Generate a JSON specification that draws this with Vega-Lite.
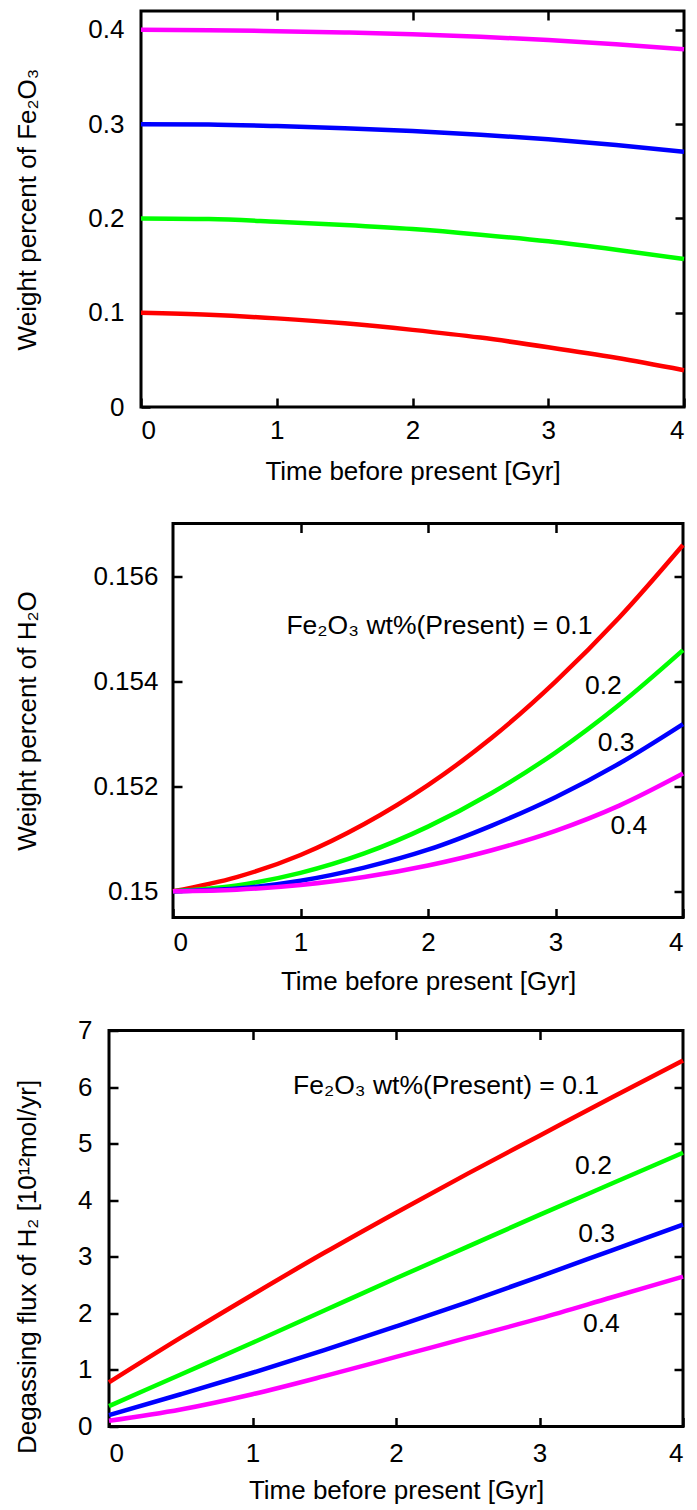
{
  "$schema": "https://vega.github.io/schema/vega-lite/v6.json",
  "background": "white",
  "padding": {"left": 5, "top": 8, "right": 5, "bottom": 5},
  "config": {
    "font": "Liberation Sans",
    "view": {"stroke": "black", "strokeWidth": 3},
    "axis": {"grid": false, "domain": false, "ticks": true, "tickSize": -9, "tickWidth": 2.5, "tickColor": "black",
      "labelFont": "Liberation Sans", "labelFontSize": 26, "labelColor": "black",
      "titleFont": "Liberation Sans", "titleFontSize": 26, "titleFontWeight": "normal", "titleColor": "black"},
    "line": {"strokeWidth": 4.5, "interpolate": "monotone"},
    "text": {"font": "Liberation Sans", "fontSize": 26.5, "color": "black"}
  },
  "datasets": {
    "fe": [
      {"t": 0, "v": 0.1, "s": "0.1"}, {"t": 0.5, "v": 0.0978, "s": "0.1"}, {"t": 1, "v": 0.094, "s": "0.1"}, {"t": 1.5, "v": 0.0888, "s": "0.1"}, {"t": 2, "v": 0.0818, "s": "0.1"}, {"t": 2.5, "v": 0.0736, "s": "0.1"}, {"t": 3, "v": 0.0634, "s": "0.1"}, {"t": 3.5, "v": 0.0522, "s": "0.1"}, {"t": 4, "v": 0.039, "s": "0.1"},
      {"t": 0, "v": 0.2, "s": "0.2"}, {"t": 0.5, "v": 0.1993, "s": "0.2"}, {"t": 1, "v": 0.1965, "s": "0.2"}, {"t": 1.5, "v": 0.1931, "s": "0.2"}, {"t": 2, "v": 0.1888, "s": "0.2"}, {"t": 2.5, "v": 0.1828, "s": "0.2"}, {"t": 3, "v": 0.1757, "s": "0.2"}, {"t": 3.5, "v": 0.1668, "s": "0.2"}, {"t": 4, "v": 0.1569, "s": "0.2"},
      {"t": 0, "v": 0.3, "s": "0.3"}, {"t": 0.5, "v": 0.2996, "s": "0.3"}, {"t": 1, "v": 0.2979, "s": "0.3"}, {"t": 1.5, "v": 0.2957, "s": "0.3"}, {"t": 2, "v": 0.2928, "s": "0.3"}, {"t": 2.5, "v": 0.2888, "s": "0.3"}, {"t": 3, "v": 0.2839, "s": "0.3"}, {"t": 3.5, "v": 0.2778, "s": "0.3"}, {"t": 4, "v": 0.2708, "s": "0.3"},
      {"t": 0, "v": 0.4, "s": "0.4"}, {"t": 0.5, "v": 0.3997, "s": "0.4"}, {"t": 1, "v": 0.3986, "s": "0.4"}, {"t": 1.5, "v": 0.3972, "s": "0.4"}, {"t": 2, "v": 0.3954, "s": "0.4"}, {"t": 2.5, "v": 0.3927, "s": "0.4"}, {"t": 3, "v": 0.3893, "s": "0.4"}, {"t": 3.5, "v": 0.3848, "s": "0.4"}, {"t": 4, "v": 0.3794, "s": "0.4"}
    ],
    "h2o": [
      {"t": 0, "v": 0.15, "s": "0.1"}, {"t": 0.5, "v": 0.15027, "s": "0.1"}, {"t": 1, "v": 0.15069, "s": "0.1"}, {"t": 1.5, "v": 0.15128, "s": "0.1"}, {"t": 2, "v": 0.15202, "s": "0.1"}, {"t": 2.5, "v": 0.15292, "s": "0.1"}, {"t": 3, "v": 0.15399, "s": "0.1"}, {"t": 3.5, "v": 0.15521, "s": "0.1"}, {"t": 4, "v": 0.15659, "s": "0.1"},
      {"t": 0, "v": 0.15, "s": "0.2"}, {"t": 0.5, "v": 0.15011, "s": "0.2"}, {"t": 1, "v": 0.15035, "s": "0.2"}, {"t": 1.5, "v": 0.15072, "s": "0.2"}, {"t": 2, "v": 0.15123, "s": "0.2"}, {"t": 2.5, "v": 0.15187, "s": "0.2"}, {"t": 3, "v": 0.15264, "s": "0.2"}, {"t": 3.5, "v": 0.15355, "s": "0.2"}, {"t": 4, "v": 0.15459, "s": "0.2"},
      {"t": 0, "v": 0.15, "s": "0.3"}, {"t": 0.5, "v": 0.15005, "s": "0.3"}, {"t": 1, "v": 0.1502, "s": "0.3"}, {"t": 1.5, "v": 0.15045, "s": "0.3"}, {"t": 2, "v": 0.15079, "s": "0.3"}, {"t": 2.5, "v": 0.15125, "s": "0.3"}, {"t": 3, "v": 0.15179, "s": "0.3"}, {"t": 3.5, "v": 0.15243, "s": "0.3"}, {"t": 4, "v": 0.15318, "s": "0.3"},
      {"t": 0, "v": 0.15, "s": "0.4"}, {"t": 0.5, "v": 0.15003, "s": "0.4"}, {"t": 1, "v": 0.15012, "s": "0.4"}, {"t": 1.5, "v": 0.15027, "s": "0.4"}, {"t": 2, "v": 0.15049, "s": "0.4"}, {"t": 2.5, "v": 0.15078, "s": "0.4"}, {"t": 3, "v": 0.15115, "s": "0.4"}, {"t": 3.5, "v": 0.15163, "s": "0.4"}, {"t": 4, "v": 0.15224, "s": "0.4"}
    ],
    "h2": [
      {"t": 0, "v": 0.78, "s": "0.1"}, {"t": 0.5, "v": 1.57, "s": "0.1"}, {"t": 1, "v": 2.33, "s": "0.1"}, {"t": 1.5, "v": 3.07, "s": "0.1"}, {"t": 2, "v": 3.78, "s": "0.1"}, {"t": 2.5, "v": 4.47, "s": "0.1"}, {"t": 3, "v": 5.14, "s": "0.1"}, {"t": 3.5, "v": 5.81, "s": "0.1"}, {"t": 4, "v": 6.47, "s": "0.1"},
      {"t": 0, "v": 0.36, "s": "0.2"}, {"t": 0.5, "v": 0.92, "s": "0.2"}, {"t": 1, "v": 1.48, "s": "0.2"}, {"t": 1.5, "v": 2.05, "s": "0.2"}, {"t": 2, "v": 2.62, "s": "0.2"}, {"t": 2.5, "v": 3.18, "s": "0.2"}, {"t": 3, "v": 3.74, "s": "0.2"}, {"t": 3.5, "v": 4.29, "s": "0.2"}, {"t": 4, "v": 4.84, "s": "0.2"},
      {"t": 0, "v": 0.2, "s": "0.3"}, {"t": 0.5, "v": 0.57, "s": "0.3"}, {"t": 1, "v": 0.95, "s": "0.3"}, {"t": 1.5, "v": 1.35, "s": "0.3"}, {"t": 2, "v": 1.77, "s": "0.3"}, {"t": 2.5, "v": 2.2, "s": "0.3"}, {"t": 3, "v": 2.65, "s": "0.3"}, {"t": 3.5, "v": 3.11, "s": "0.3"}, {"t": 4, "v": 3.57, "s": "0.3"},
      {"t": 0, "v": 0.1, "s": "0.4"}, {"t": 0.5, "v": 0.3, "s": "0.4"}, {"t": 1, "v": 0.57, "s": "0.4"}, {"t": 1.5, "v": 0.89, "s": "0.4"}, {"t": 2, "v": 1.23, "s": "0.4"}, {"t": 2.5, "v": 1.57, "s": "0.4"}, {"t": 3, "v": 1.91, "s": "0.4"}, {"t": 3.5, "v": 2.28, "s": "0.4"}, {"t": 4, "v": 2.65, "s": "0.4"}
    ],
    "lab2": [
      {"t": 3.29, "v": 0.15504, "label": "Fe₂O₃ wt%(Present) = 0.1"},
      {"t": 3.52, "v": 0.15391, "label": "0.2"},
      {"t": 3.62, "v": 0.15282, "label": "0.3"},
      {"t": 3.72, "v": 0.15125, "label": "0.4"}
    ],
    "lab3": [
      {"t": 3.415, "v": 6.02, "label": "Fe₂O₃ wt%(Present) = 0.1"},
      {"t": 3.505, "v": 4.6, "label": "0.2"},
      {"t": 3.526, "v": 3.4, "label": "0.3"},
      {"t": 3.56, "v": 1.805, "label": "0.4"}
    ],
    "blank": [{}]
  },
  "concat": [
    {
      "hconcat": [
        {"width": 1, "height": 1, "data": {"name": "blank"}, "mark": {"type": "point", "opacity": 0}, "view": {"stroke": null}},
        {
          "width": 543, "height": 396,
          "data": {"name": "fe"},
          "layer": [
            {"mark": {"type": "line"},
              "encoding": {
                "x": {"field": "t", "type": "quantitative", "scale": {"domain": [0, 4], "nice": false},
                  "axis": {"orient": "bottom", "values": [0, 1, 2, 3, 4], "format": "d", "title": "Time before present [Gyr]", "labelPadding": 19, "minExtent": 40, "maxExtent": 40, "titlePadding": 11}},
                "y": {"field": "v", "type": "quantitative", "scale": {"domain": [0, 0.42], "nice": false, "zero": false},
                  "axis": {"orient": "left", "values": [0, 0.1, 0.2, 0.3, 0.4], "format": "~g", "title": "Weight percent of Fe₂O₃", "labelPadding": 26, "minExtent": 53, "maxExtent": 53, "titlePadding": 48}},
                "color": {"field": "s", "type": "nominal", "scale": {"domain": ["0.1", "0.2", "0.3", "0.4"], "range": ["#ff0000", "#00ff00", "#0000ff", "#ff00ff"]}, "legend": null}
              }},
            {"mark": {"type": "line", "strokeOpacity": 0},
              "encoding": {
                "x": {"field": "t", "type": "quantitative", "axis": {"orient": "top", "values": [1, 2, 3], "labels": false, "title": null, "minExtent": 0, "maxExtent": 0}},
                "y": {"field": "v", "type": "quantitative", "axis": {"orient": "right", "values": [0.1, 0.2, 0.3, 0.4], "labels": false, "title": null, "minExtent": 0, "maxExtent": 0}},
                "detail": {"field": "s"}
              }}
          ],
          "resolve": {"axis": {"x": "independent", "y": "independent"}}
        }
      ],
      "spacing": 0
    },
    {
      "concat": [
        {
          "hconcat": [
            {"width": 1, "height": 1, "data": {"name": "blank"}, "mark": {"type": "point", "opacity": 0}, "view": {"stroke": null}},
            {
              "width": 510, "height": 394,
              "layer": [
                {"data": {"name": "h2o"},
                  "mark": {"type": "line"},
                  "encoding": {
                    "x": {"field": "t", "type": "quantitative", "scale": {"domain": [0, 4], "nice": false},
                      "axis": {"orient": "bottom", "values": [0, 1, 2, 3, 4], "format": "d", "title": "Time before present [Gyr]", "labelPadding": 21, "minExtent": 40, "maxExtent": 40, "titlePadding": 11}},
                    "y": {"field": "v", "type": "quantitative", "scale": {"domain": [0.1495, 0.157], "nice": false, "zero": false},
                      "axis": {"orient": "left", "values": [0.15, 0.152, 0.154, 0.156], "format": "~g", "title": "Weight percent of H₂O", "labelPadding": 24, "minExtent": 82, "maxExtent": 82, "titlePadding": 51}},
                    "color": {"field": "s", "type": "nominal", "scale": {"domain": ["0.1", "0.2", "0.3", "0.4"], "range": ["#ff0000", "#00ff00", "#0000ff", "#ff00ff"]}, "legend": null}
                  }},
                {"data": {"name": "h2o"},
                  "mark": {"type": "line", "strokeOpacity": 0},
                  "encoding": {
                    "x": {"field": "t", "type": "quantitative", "axis": {"orient": "top", "values": [1, 2, 3], "labels": false, "title": null, "minExtent": 0, "maxExtent": 0}},
                    "y": {"field": "v", "type": "quantitative", "axis": {"orient": "right", "values": [0.15, 0.152, 0.154, 0.156], "labels": false, "title": null, "minExtent": 0, "maxExtent": 0}},
                    "detail": {"field": "s"}
                  }},
                {"data": {"name": "lab2"},
                  "mark": {"type": "text", "align": "right", "baseline": "middle"},
                  "encoding": {
                    "x": {"field": "t", "type": "quantitative", "axis": null},
                    "y": {"field": "v", "type": "quantitative", "axis": null},
                    "text": {"field": "label"}
                  }}
              ],
              "resolve": {"axis": {"x": "independent", "y": "independent"}}
            }
          ],
          "spacing": 0
        },
        {
          "hconcat": [
            {"width": 1, "height": 1, "data": {"name": "blank"}, "mark": {"type": "point", "opacity": 0}, "view": {"stroke": null}},
            {
              "width": 574, "height": 396,
              "layer": [
                {"data": {"name": "h2"},
                  "mark": {"type": "line"},
                  "encoding": {
                    "x": {"field": "t", "type": "quantitative", "scale": {"domain": [0, 4], "nice": false},
                      "axis": {"orient": "bottom", "values": [0, 1, 2, 3, 4], "format": "d", "title": "Time before present [Gyr]", "labelPadding": 23, "minExtent": 40, "maxExtent": 40, "titlePadding": 11}},
                    "y": {"field": "v", "type": "quantitative", "scale": {"domain": [0, 7], "nice": false},
                      "axis": {"orient": "left", "values": [0, 1, 2, 3, 4, 5, 6, 7], "format": "d", "title": "Degassing flux of H₂ [10¹²mol/yr]", "titleY": 236, "labelPadding": 26, "minExtent": 32, "maxExtent": 32, "titlePadding": 37}},
                    "color": {"field": "s", "type": "nominal", "scale": {"domain": ["0.1", "0.2", "0.3", "0.4"], "range": ["#ff0000", "#00ff00", "#0000ff", "#ff00ff"]}, "legend": null}
                  }},
                {"data": {"name": "h2"},
                  "mark": {"type": "line", "strokeOpacity": 0},
                  "encoding": {
                    "x": {"field": "t", "type": "quantitative", "axis": {"orient": "top", "values": [1, 2, 3], "labels": false, "title": null, "minExtent": 0, "maxExtent": 0}},
                    "y": {"field": "v", "type": "quantitative", "axis": {"orient": "right", "values": [1, 2, 3, 4, 5, 6], "labels": false, "title": null, "minExtent": 0, "maxExtent": 0}},
                    "detail": {"field": "s"}
                  }},
                {"data": {"name": "lab3"},
                  "mark": {"type": "text", "align": "right", "baseline": "middle"},
                  "encoding": {
                    "x": {"field": "t", "type": "quantitative", "axis": null},
                    "y": {"field": "v", "type": "quantitative", "axis": null},
                    "text": {"field": "label"}
                  }}
              ],
              "resolve": {"axis": {"x": "independent", "y": "independent"}}
            }
          ],
          "spacing": 0
        }
      ],
      "columns": 1,
      "spacing": 19
    }
  ],
  "columns": 1,
  "spacing": 34.5
}
